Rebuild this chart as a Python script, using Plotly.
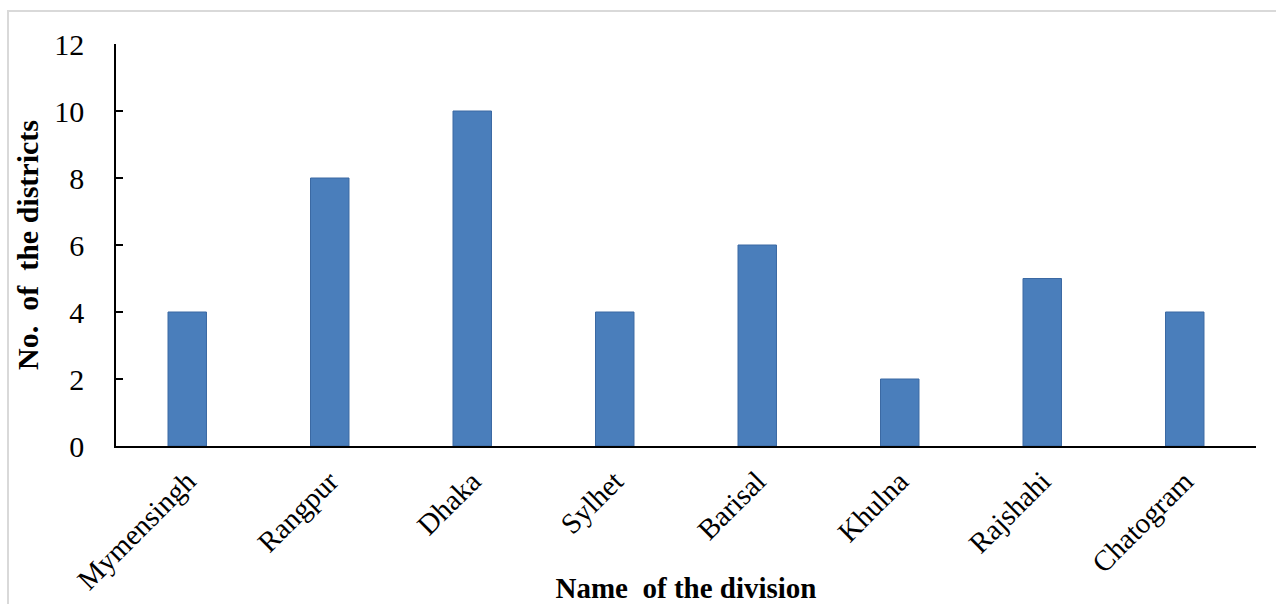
import plotly.graph_objects as go

# District counts per administrative division
divisions = ["Mymensingh", "Rangpur", "Dhaka", "Sylhet", "Barisal", "Khulna", "Rajshahi", "Chatogram"]
districts = [4, 8, 10, 4, 6, 2, 5, 4]
y_ticks = [0, 2, 4, 6, 8, 10, 12]

W, H = 1276, 604
ML, MR, MT, MB = 116, 20, 44, 158
serif = "Liberation Serif, Times New Roman, serif"

fig = go.Figure(
    go.Bar(
        x=divisions,
        y=districts,
        width=0.27,
        marker=dict(color="#4a7ebb", line=dict(color="#3b69a3", width=1)),
    )
)

fig.update_layout(
    width=W,
    height=H,
    margin=dict(l=ML, r=MR, t=MT, b=MB),
    paper_bgcolor="white",
    plot_bgcolor="white",
    showlegend=False,
    font=dict(family=serif, color="black"),
    xaxis=dict(
        showline=True,
        linecolor="black",
        linewidth=1.5,
        tickangle=-45,
        tickfont=dict(size=29, family=serif),
        ticks="",
        ticklabelstandoff=5,
        automargin=False,
        title=dict(text="<b>Name  of the division</b>", font=dict(size=29, family=serif), standoff=4),
    ),
    yaxis=dict(
        range=[0, 12],
        tickvals=y_ticks,
        showline=True,
        linecolor="black",
        linewidth=1.5,
        ticks="inside",
        ticklen=7,
        tickcolor="black",
        tickwidth=1.5,
        showgrid=False,
        zeroline=False,
        automargin=False,
        tickfont=dict(size=30, family=serif),
        ticklabelstandoff=24,
        title=dict(text="<b>No.  of  the districts</b>", font=dict(size=30, family=serif), standoff=7),
    ),
)

# thin frame around the chart area
fig.add_shape(
    type="rect", xref="paper", yref="paper",
    x0=-(ML - 8) / (W - ML - MR), x1=1 + (MR + 10) / (W - ML - MR),
    y0=-(MB + 20) / (H - MT - MB), y1=1 + (MT - 11) / (H - MT - MB),
    line=dict(color="#d9d9d9", width=2), layer="below",
)

fig.write_html("out.html")
